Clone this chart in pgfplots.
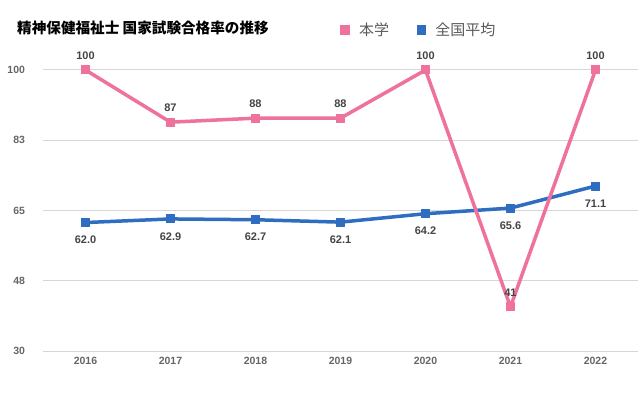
\documentclass[border=0pt]{standalone}
\usepackage{pgfplots}
\pgfplotsset{compat=1.18}
\usepackage{fontspec}
\setmainfont{Liberation Sans}
\newfontfamily\cjk{Noto Sans CJK JP}
\definecolor{pinkc}{RGB}{238,114,155}
\definecolor{bluec}{RGB}{46,109,191}
\definecolor{gridc}{RGB}{214,214,214}
\definecolor{tickc}{RGB}{102,102,102}
\definecolor{labc}{RGB}{68,68,68}
\definecolor{legc}{RGB}{90,90,90}
\begin{document}
\begin{tikzpicture}[x=1pt,y=1pt]
\useasboundingbox (0,0) rectangle (640,397);
\node[anchor=west, inner sep=0pt, font=\cjk\bfseries\fontsize{14.6}{16}\selectfont] at (17,369) {精神保健福祉士 国家試験合格率の推移};
\begin{axis}[
  at={(43pt,46pt)}, anchor=south west,
  scale only axis, width=595pt, height=281pt,
  xmin=2015.5, xmax=2022.5, ymin=30, ymax=100,
  xtick={2016,2017,2018,2019,2020,2021,2022},
  xticklabels={2016,2017,2018,2019,2020,2021,2022},
  ytick={30,47.5,65,82.5,100}, yticklabels={30,48,65,83,100},
  axis line style={draw=none}, major tick length=0pt,
  ymajorgrids, grid style={draw=gridc, line width=1pt},
  tick label style={font=\bfseries\fontsize{10.5}{12}\selectfont, text=tickc},
  yticklabel style={xshift=-14.5pt},
  xticklabel style={yshift=-2.5pt},
  /pgf/number format/assume math mode=true,
  clip=false,
  legend columns=2,
  legend style={at={(axis description cs:0.500,1.1423)}, anchor=west, draw=none, fill=none, inner sep=0pt,
    font=\cjk\fontsize{15}{16}\selectfont, text=legc,
    /tikz/every odd column/.append style={column sep=8pt},
    /tikz/every even column/.append style={column sep=26pt}},
]
\addlegendimage{only marks, mark=square*, color=pinkc, mark size=4.2pt, mark options={line width=1pt}}
\addlegendentry{本学}
\addlegendimage{only marks, mark=square*, color=bluec, mark size=4.2pt, mark options={line width=1pt}}
\addlegendentry{全国平均}
\addplot[forget plot, color=bluec, line width=3.5pt, line join=round, mark=square*, mark size=4pt, mark options={solid, line width=1pt},
  nodes near coords, point meta=y,
  every node near coord/.append style={anchor=north, yshift=-13pt, inner sep=0pt, text=labc, font=\bfseries\fontsize{11}{12}\selectfont,
    /pgf/number format/.cd, fixed, fixed zerofill, precision=1}]
  coordinates {(2016,62.0) (2017,62.9) (2018,62.7) (2019,62.1) (2020,64.2) (2021,65.6) (2022,71.1)};
\addplot[forget plot, color=pinkc, line width=3.5pt, line join=round, mark=square*, mark size=4pt, mark options={solid, line width=1pt},
  nodes near coords, point meta=y,
  every node near coord/.append style={anchor=south, yshift=10pt, inner sep=0pt, text=labc, font=\bfseries\fontsize{11}{12}\selectfont,
    /pgf/number format/.cd, fixed, precision=0}]
  coordinates {(2016,100) (2017,87) (2018,88) (2019,88) (2020,100) (2021,41) (2022,100)};
\end{axis}
\end{tikzpicture}
\end{document}
